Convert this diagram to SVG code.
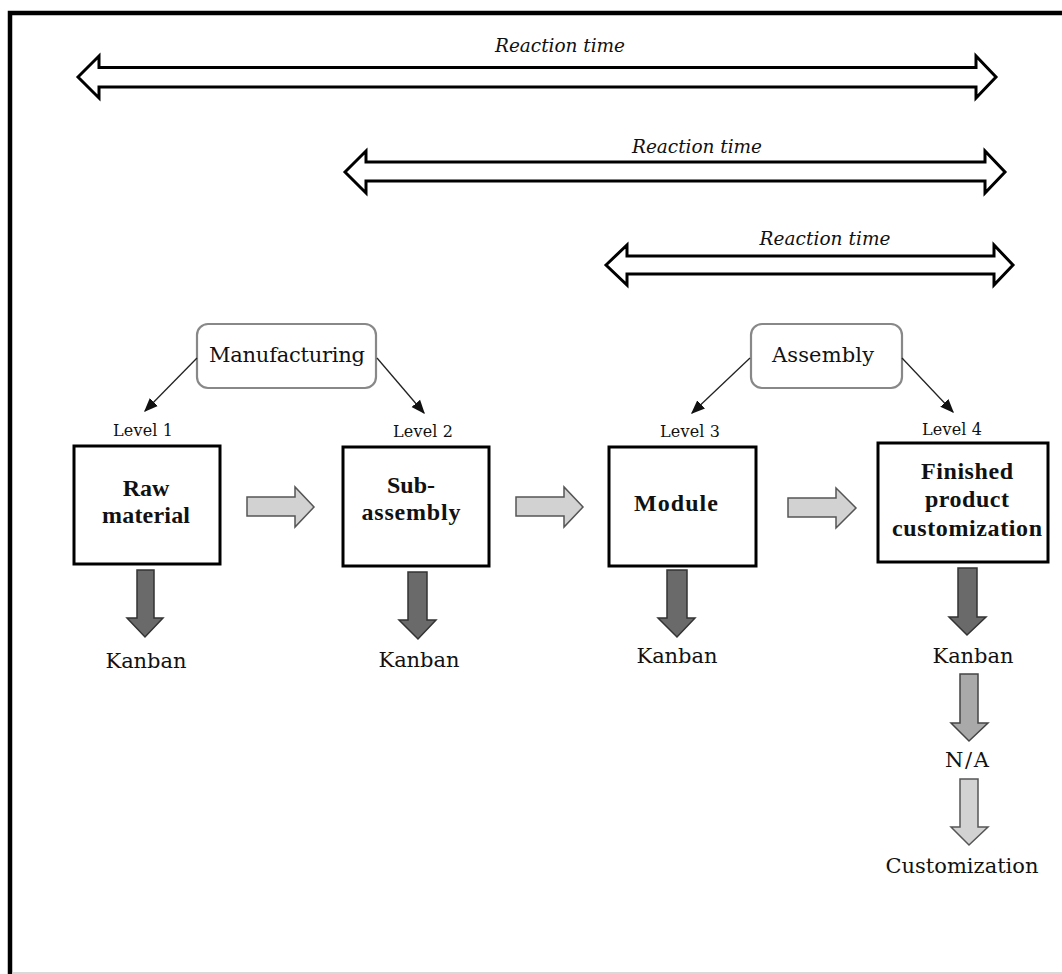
<svg xmlns="http://www.w3.org/2000/svg" width="1062" height="974" viewBox="0 0 1062 974">
<defs>
<style>
.t{font-family:"DejaVu Serif","Liberation Serif",serif;fill:#111;text-anchor:middle}
.it{font-style:italic;font-size:18.5px}
.lvl{font-size:16px}
.rg{font-size:21px}
.b{font-family:"Liberation Serif","Times New Roman",serif;font-weight:bold;font-size:24px}
.bx{fill:#fff;stroke:#000;stroke-width:3}
.grp{fill:#fff;stroke:#888;stroke-width:2.2}
.dbl{fill:#fff;stroke:#000;stroke-width:3;stroke-linejoin:miter}
.dk{fill:#6a6a6a;stroke:#333;stroke-width:1.5}
.md{fill:#a9a9a9;stroke:#444;stroke-width:1.5}
.lt{fill:#d2d2d2;stroke:#555;stroke-width:1.5}
.con{stroke:#222;stroke-width:1.3;fill:none}
</style>
<marker id="ah2" viewBox="0 0 10 10" refX="9" refY="5" markerWidth="14" markerHeight="14" orient="auto" markerUnits="userSpaceOnUse">
<path d="M0,1 L10,5 L0,9 z" fill="#111"/>
</marker>
</defs>
<rect width="1062" height="974" fill="#fff"/>
<!-- frame -->
<path d="M10,974 V13 H1062" fill="none" stroke="#000" stroke-width="4.5"/>
<line x1="12" y1="973" x2="1062" y2="973" stroke="#ccc" stroke-width="1.5"/>

<!-- reaction time arrows -->
<g id="rt1">
<path class="dbl" d="M78,77 L99,56 L99,67.5 L976,67.5 L976,56 L996,77 L976,98 L976,87 L99,87 L99,98 Z"/>
<text class="t it" x="560" y="52" textLength="130">Reaction time</text>
</g>
<g id="rt2">
<path class="dbl" d="M345,172 L366,151 L366,162 L985,162 L985,151 L1005,172 L985,193 L985,181 L366,181 L366,193 Z"/>
<text class="t it" x="697" y="153" textLength="130">Reaction time</text>
</g>
<g id="rt3">
<path class="dbl" d="M606,265 L627,245 L627,256 L994,256 L994,245 L1013,265 L994,285 L994,274 L627,274 L627,285 Z"/>
<text class="t it" x="825" y="245" textLength="131">Reaction time</text>
</g>

<!-- group labels -->
<g id="manufacturing">
<rect class="grp" x="197" y="324" width="179" height="64" rx="11"/>
<text class="t rg" x="287" y="362" textLength="156">Manufacturing</text>
</g>
<g id="assembly">
<rect class="grp" x="751" y="324" width="151" height="64" rx="11"/>
<text class="t rg" x="823" y="362" textLength="102">Assembly</text>
</g>

<!-- level nodes -->
<g id="level1">
<text class="t lvl" x="143" y="436" textLength="60">Level 1</text>
<rect class="bx" x="74" y="446" width="146" height="118"/>
<text class="t b" x="146" y="496">Raw</text>
<text class="t b" x="146" y="523" textLength="88">material</text>
</g>
<g id="level2">
<text class="t lvl" x="423" y="437" textLength="60">Level 2</text>
<rect class="bx" x="343" y="447" width="146" height="119"/>
<text class="t b" x="411" y="493">Sub-</text>
<text class="t b" x="411" y="520" textLength="99">assembly</text>
</g>
<g id="level3">
<text class="t lvl" x="690" y="437" textLength="60">Level 3</text>
<rect class="bx" x="609" y="447" width="147" height="119"/>
<text class="t b" x="676" y="511" textLength="84">Module</text>
</g>
<g id="level4">
<text class="t lvl" x="952" y="435" textLength="60">Level 4</text>
<rect class="bx" x="878" y="443" width="170" height="119"/>
<text class="t b" x="967" y="479" textLength="92">Finished</text>
<text class="t b" x="967" y="507" textLength="84">product</text>
<text class="t b" x="967" y="536" textLength="150">customization</text>
</g>

<!-- outputs -->
<g id="out1"><text class="t rg" x="146" y="668" textLength="81">Kanban</text></g>
<g id="out2"><text class="t rg" x="419" y="667" textLength="81">Kanban</text></g>
<g id="out3"><text class="t rg" x="677" y="663" textLength="81">Kanban</text></g>
<g id="out4"><text class="t rg" x="973" y="663" textLength="81">Kanban</text></g>
<g id="na"><text class="t rg" x="967" y="767" textLength="44">N/A</text></g>
<g id="custom"><text class="t rg" x="962" y="873" textLength="153">Customization</text></g>

<!-- connectors -->
<g id="connectors">
<line class="con" x1="197" y1="358" x2="145" y2="411" marker-end="url(#ah2)"/>
<line class="con" x1="377" y1="358" x2="424" y2="413" marker-end="url(#ah2)"/>
<line class="con" x1="750" y1="358" x2="692" y2="413" marker-end="url(#ah2)"/>
<line class="con" x1="902" y1="358" x2="953" y2="412" marker-end="url(#ah2)"/>
<path class="lt" d="M247,497 L295,497 L295,487 L314,507 L295,527 L295,516 L247,516 Z"/>
<path class="lt" d="M516,497 L564,497 L564,487 L583,507 L564,527 L564,516 L516,516 Z"/>
<path class="lt" d="M788,498 L836,498 L836,488 L856,508 L836,528 L836,517 L788,517 Z"/>
<path class="dk" d="M137,570 L154,570 L154,618 L163,618 L145,637 L127,618 L137,618 Z"/>
<path class="dk" d="M408,572 L427,572 L427,620 L436,620 L418,639 L399,620 L408,620 Z"/>
<path class="dk" d="M667,570 L687,570 L687,618 L695,618 L677,637 L658,618 L667,618 Z"/>
<path class="dk" d="M958,568 L977,568 L977,617 L986,617 L967,635 L949,617 L958,617 Z"/>
<path class="md" d="M960,674 L978,674 L978,723 L988,723 L969,741 L951,723 L960,723 Z"/>
<path class="lt" d="M960,779 L978,779 L978,827 L988,827 L969,845 L951,827 L960,827 Z"/>
</g>
</svg>
